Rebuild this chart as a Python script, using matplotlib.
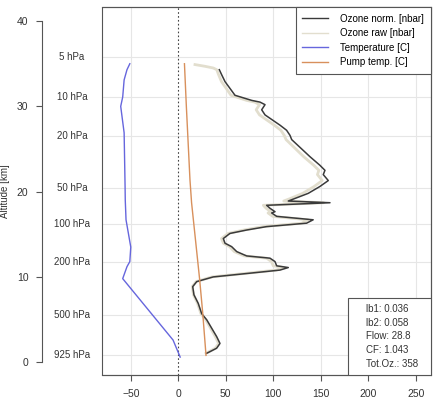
import numpy as np
import matplotlib.pyplot as plt
from matplotlib.patches import Rectangle
import matplotlib.transforms as mtransforms

plt.rc('font', family=['Liberation Sans', 'DejaVu Sans'], size=7)

# Ozone partial pressure (nbar) vs altitude (km)
oz_alt = [34.3, 33.7, 32.9, 31.3, 30.7, 30.5, 30.2, 29.6, 29.0, 27.8, 27.2, 26.6,
          26.1, 24.1, 23.1, 22.5, 22.0, 21.3, 20.6, 19.8, 19.2, 18.9, 18.7, 18.4,
          18.05, 17.65, 17.5, 17.1, 16.7, 16.3, 15.9, 15.5, 15.1, 14.5, 13.95, 13.55,
          12.97, 12.46, 12.2, 11.8, 11.3, 11.1, 10.8, 10.4, 10.0, 9.45, 8.86, 7.9,
          6.9, 5.7, 4.96, 3.98, 3.0, 2.2, 1.64, 1.24, 1.05]
oz_norm = [43.2, 45.7, 49.2, 59.7, 77.3, 86.0, 91.3, 87.8, 91.3, 107.0, 114.0, 117.6,
           119.4, 138.6, 149.0, 154.4, 152.6, 157.9, 149.0, 136.8, 122.8, 115.8, 159.7, 93.0,
           96.5, 101.8, 98.3, 103.6, 142.0, 135.0, 93.0, 72.0, 54.4, 47.4, 49.2, 56.2,
           61.5, 72.0, 96.5, 101.8, 103.6, 115.8, 107.0, 72.0, 36.8, 19.4, 15.2, 16.5,
           21.0, 24.6, 30.0, 35.2, 40.4, 43.9, 40.4, 33.4, 30.0]

raw_alt = [34.9, 34.7, 34.5, 34.3, 33.7, 32.9, 31.3, 30.7, 30.5, 30.2, 29.6, 29.0,
           27.8, 27.2, 26.6, 26.1, 24.1, 23.1, 22.5, 22.0, 21.3, 20.6, 19.8, 19.2,
           18.9, 18.7, 18.4, 18.05, 17.65, 17.5, 17.1, 16.7, 16.3, 15.9, 15.5, 15.1,
           14.5, 13.95, 13.55, 12.97, 12.46, 12.2, 11.8, 11.3, 11.1, 10.8, 10.4, 10.0,
           9.45, 8.86, 7.9, 6.9, 5.7, 4.96, 3.98, 3.0, 2.2, 1.64, 1.24, 1.05]
oz_raw = [17.6, 28.0, 36.8, 40.5, 42.5, 45.5, 55.5, 72.0, 80.5, 85.5, 82.0, 85.5,
          101.0, 108.0, 111.5, 113.5, 132.0, 142.5, 148.0, 146.5, 151.5, 143.0, 131.0, 118.0,
          111.0, 153.0, 89.5, 92.5, 97.5, 94.5, 99.5, 136.5, 130.0, 89.5, 69.0, 52.5,
          45.5, 47.5, 54.0, 59.0, 69.5, 93.0, 98.0, 100.0, 111.5, 103.0, 69.5, 35.5,
          18.8, 14.7, 16.0, 20.3, 23.8, 29.0, 34.0, 39.0, 42.5, 39.0, 32.5, 29.2]

# Air temperature (C)
t_alt = [0.6, 2.6, 9.8, 11.2, 11.8, 13.5, 16.7, 19.0, 20.6, 26.9, 30.0, 31.1, 33.1, 34.3, 35.0]
t_air = [2.0, -5.5, -58.5, -54.0, -51.0, -50.0, -55.0, -55.8, -56.0, -57.0, -60.6, -58.5,
         -57.0, -54.0, -51.0]

# Pump temperature (C)
pump_alt = [0.8, 5.8, 9.7, 18.7, 21.4, 30.0, 35.0]
pump_t = [29.2, 25.7, 22.5, 14.0, 12.3, 8.5, 6.5]

# Pressure levels and the altitudes they sit at
p_labels = ['5 hPa', '10 hPa', '20 hPa', '50 hPa', '100 hPa', '200 hPa', '500 hPa', '925 hPa']
p_alt = [35.8, 31.1, 26.5, 20.4, 16.2, 11.8, 5.54, 0.86]

stats = ['lb1: 0.036', 'lb2: 0.058', 'Flow: 28.8', 'CF: 1.043', 'Tot.Oz.: 358']

x_ticks = [-50, 0, 50, 100, 150, 200, 250]
y_ticks = [0, 10, 20, 30, 40]

fig = plt.figure(figsize=(4.4, 4.08), dpi=100)
ax = fig.add_axes([0.2318, 0.0809, 0.7477, 0.9019])

# grid
for xv in x_ticks:
    if xv == 0:
        ax.axvline(0, color='#444444', ls=(0, (1.5, 2)), lw=0.8, zorder=1)
    else:
        ax.axvline(xv, color='#e6e6e6', lw=0.8, zorder=0)
for yv in p_alt:
    ax.axhline(yv, color='#e6e6e6', lw=0.8, zorder=0)

ax.plot(oz_raw, raw_alt, color='#e2dece', lw=2.0, zorder=2)
ax.plot(oz_norm, oz_alt, color='#3a3a3a', lw=1.1, zorder=3)
ax.plot(t_air, t_alt, color='#6666dd', lw=1.0, zorder=3)
ax.plot(pump_t, pump_alt, color='#d8905c', lw=1.0, zorder=3)

# legend handles
h = [plt.Line2D([], [], color='#3a3a3a', lw=1.0),
     plt.Line2D([], [], color='#e2dece', lw=1.0),
     plt.Line2D([], [], color='#6666dd', lw=1.0),
     plt.Line2D([], [], color='#d8905c', lw=1.0)]
leg = ax.legend(h, ['Ozone norm. [nbar]', 'Ozone raw [nbar]', 'Temperature [C]', 'Pump temp. [C]'],
                loc='upper right', borderaxespad=0, fancybox=False, edgecolor='#555555',
                framealpha=1, fontsize=7, handlelength=2.6, handletextpad=1.3,
                labelspacing=0.45, borderpad=0.7)
leg.get_frame().set_linewidth(0.8)

ax.set_xlim(-80.3, 266)
ax.set_ylim(-1.5, 41.65)

ax.spines['left'].set_position(('outward', 43))
ax.spines['left'].set_bounds(0, 40)
for s in ax.spines.values():
    s.set_color('#555555')
    s.set_linewidth(0.8)
ax.add_patch(Rectangle((0, 0), 1, 1, transform=ax.transAxes, fill=False,
                       ec='#555555', lw=0.8, clip_on=False, zorder=5))

ax.set_xticks(x_ticks)
ax.set_yticks(y_ticks)
ax.tick_params(axis='both', colors='#555555', labelcolor='#333333', labelsize=7.5,
               length=4, width=0.8)
ax.tick_params(axis='x', pad=6)
ax.tick_params(axis='y', pad=6)
ax.set_ylabel('Altitude [km]', fontsize=7, color='#333333')
ax.yaxis.set_label_coords(-0.28, 0.5)

trans = mtransforms.blended_transform_factory(ax.transAxes, ax.transData)
for lab, a in zip(p_labels, p_alt):
    ax.text(-0.091, a, lab, transform=trans, ha='center', va='center',
            fontsize=7, color='#333333')

# info box
ax.add_patch(Rectangle((0.747, 0), 0.253, 0.21, transform=ax.transAxes, fc='white',
                       ec='#555555', lw=0.8, zorder=6))
ax.text(0.803, 0.105, '\n'.join(stats), transform=ax.transAxes, ha='left', va='center',
        fontsize=7, color='#333333', linespacing=1.45, zorder=7)

fig.savefig('out.png', dpi=100)
